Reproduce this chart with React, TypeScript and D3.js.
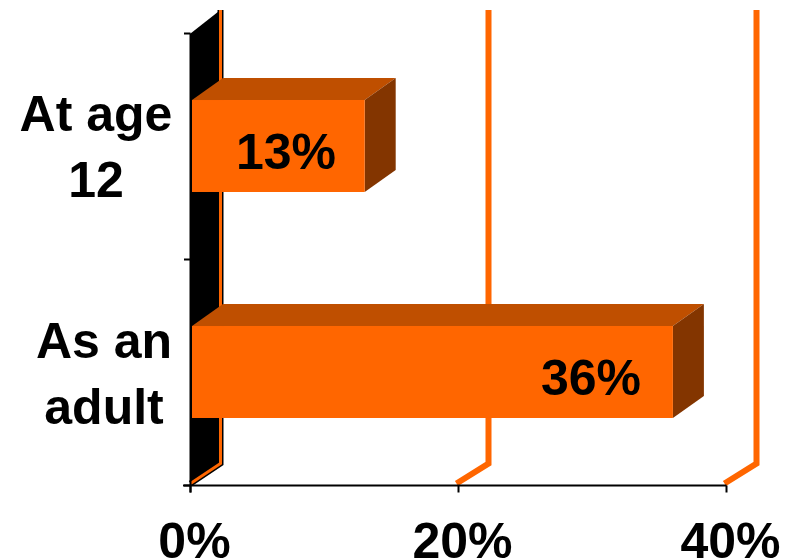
import React from "react";
import * as d3 from "d3";

const categories = ["At age 12", "As an adult"];
const categoryLines = [["At age", "12"], ["As an", "adult"]];
const values = [13, 36];
const xTicks = [0, 20, 40];

const ORANGE = "#ff6600";
const TOP = "#bf4f00";
const SIDE = "#833500";
const FONT = "'Liberation Sans', Arial, sans-serif";

const width = 792;
const height = 560;
const dx = 31;
const dy = -22;
const floorY = 485.5;
const topY = 33.5;

const x = d3.scaleLinear().domain([0, 40]).range([190.5, 726.5]);
const y = d3
  .scaleBand<string>()
  .domain(categories)
  .range([topY - 0.5, floorY - 0.5])
  .paddingInner(0.593)
  .paddingOuter(0.2965);
const yEdges = [topY, (topY + floorY) / 2, floorY];

const pts = (p: [number, number][]) => p.map((q) => q.join(",")).join(" ");
const line = d3.line();

export default function App() {
  return (
    <svg
      width={width}
      height={height}
      viewBox={`0 0 ${width} ${height}`}
      style={{ position: "absolute", left: 0, top: 0, background: "#fff" }}
    >
      {/* side wall of the 3D plot */}
      <polygon
        points={pts([
          [x(0), floorY],
          [x(0), topY],
          [x(0) + dx - 3, topY + dy],
          [x(0) + dx - 3, floorY + dy],
        ])}
        fill="#000"
      />

      {/* gridlines running across floor and back wall */}
      {xTicks.map((t) => {
        const zero = t === 0;
        const path = line([
          [x(t) - (zero ? 0 : 2), floorY - 2],
          [x(t) + dx - 1, floorY + dy],
          [x(t) + dx - 1, 10],
        ]) as string;
        return (
          <g key={t}>
            {zero && <path d={path} fill="none" stroke="#000" strokeWidth={6} />}
            <path d={path} fill="none" stroke={ORANGE} strokeWidth={zero ? 3 : 6} />
          </g>
        );
      })}

      {/* axes */}
      <line x1={x(0)} x2={x(0)} y1={topY} y2={floorY + 7} stroke="#000" strokeWidth={2} />
      <line x1={183} x2={x(40)} y1={floorY} y2={floorY} stroke="#000" strokeWidth={2} />
      {yEdges.map((v) => (
        <line key={v} x1={184} x2={x(0)} y1={v} y2={v} stroke="#000" strokeWidth={2} />
      ))}
      {xTicks.map((t) => (
        <line key={t} x1={x(t)} x2={x(t)} y1={floorY} y2={floorY + 7} stroke="#000" strokeWidth={2} />
      ))}

      {/* bars */}
      {categories.map((c, i) => {
        const x0 = x(0) + 1.5;
        const x1 = x(values[i]);
        const y0 = y(c) as number;
        const y1 = y0 + y.bandwidth();
        return (
          <g key={c}>
            <polygon
              points={pts([[x0, y0], [x1, y0], [x1 + dx, y0 + dy], [x0 + dx, y0 + dy]])}
              fill={TOP}
            />
            <polygon
              points={pts([[x1, y0], [x1 + dx, y0 + dy], [x1 + dx, y1 + dy], [x1, y1]])}
              fill={SIDE}
            />
            <rect x={x0} y={y0} width={x1 - x0} height={y1 - y0} fill={ORANGE} />
          </g>
        );
      })}

      {/* value labels */}
      <g fontFamily={FONT} fontWeight="bold" fontSize={50} fill="#000" textAnchor="middle">
        {categories.map((c, i) => (
          <text key={c} x={i === 0 ? 286 : 591} y={(y(c) as number) + 68.5}>
            {values[i]}%
          </text>
        ))}
      </g>

      {/* category labels */}
      <g fontFamily={FONT} fontWeight="bold" fontSize={50} fill="#000" textAnchor="middle">
        {categoryLines.map((ls, i) =>
          ls.map((l, j) => (
            <text key={l} x={i === 0 ? 96 : 104} y={(i === 0 ? 131 : 358) + j * 66}>
              {l}
            </text>
          ))
        )}
      </g>

      {/* value axis labels */}
      <g fontFamily={FONT} fontWeight="bold" fontSize={50} fill="#000" textAnchor="middle">
        {xTicks.map((t) => (
          <text key={t} x={x(t) + 4} y={557.5}>
            {t}%
          </text>
        ))}
      </g>
    </svg>
  );
}
